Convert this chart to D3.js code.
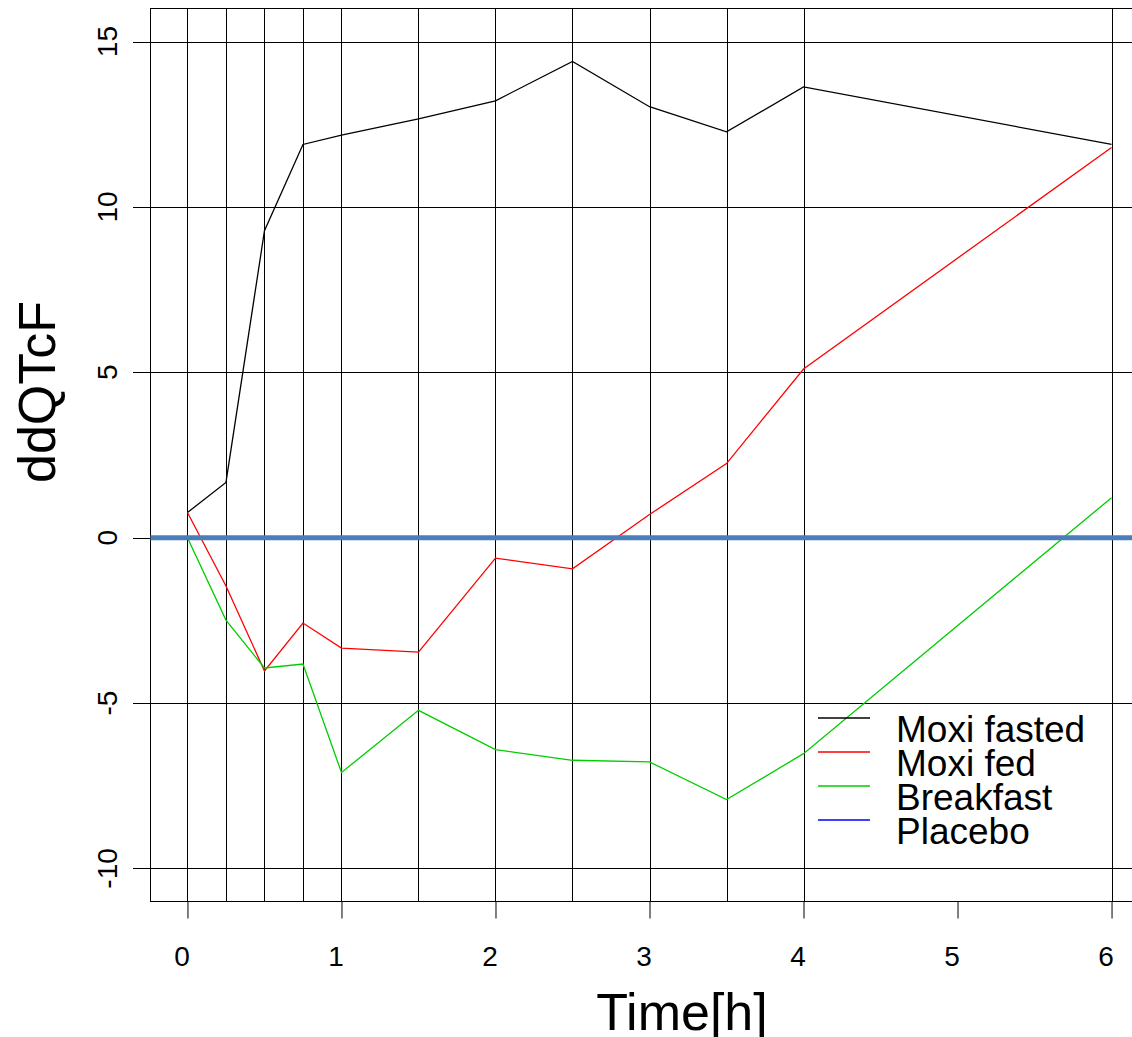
<!DOCTYPE html>
<html>
<head>
<meta charset="utf-8">
<script src="https://cdn.jsdelivr.net/npm/d3@7"></script>
<style>
  body { margin: 0; background: #fff; }
  text { font-family: "Liberation Sans", Arial, sans-serif; fill: #000; }
</style>
</head>
<body>
<div class="chart"></div>
<script>
var svgWidth = 1132;
var svgHeight = 1037;

// time points (h)
var times = [0, 0.25, 0.5, 0.75, 1, 1.5, 2, 2.5, 3, 3.5, 4, 6];

var moxiFasted = [0.76, 1.67, 9.28, 11.89, 12.17, 12.66, 13.21, 14.40, 13.03, 12.27, 13.63, 11.89];
var moxiFed    = [0.76, -1.46, -4.03, -2.58, -3.34, -3.46, -0.62, -0.94, 0.70, 2.24, 5.10, 11.80];
var breakfast  = [0.0, -2.49, -3.94, -3.82, -7.10, -5.22, -6.41, -6.73, -6.78, -7.92, -6.53, 1.21];
var placebo    = [0, 0, 0, 0, 0, 0, 0, 0, 0, 0, 0, 0];

var xTicks = [0, 1, 2, 3, 4, 5, 6];
var yTicks = [-10, -5, 0, 5, 10, 15];

var seriesNames = ["Moxi fasted", "Moxi fed", "Breakfast", "Placebo"];
var seriesColors = ["#000000", "#ff0000", "#00cd00", "#0000ff"];
var seriesValues = [moxiFasted, moxiFed, breakfast, placebo];

var svg = d3.select(".chart")
    .append("svg")
    .attr("width", svgWidth)
    .attr("height", svgHeight)
    .style("display", "block");

svg.append("rect")
    .attr("width", svgWidth)
    .attr("height", svgHeight)
    .attr("fill", "#fff");

var x = d3.scaleLinear().domain([-0.24, 6.24]).range([150.5, 1148.5]);
var y = d3.scaleLinear().domain([-11, 16]).range([901.5, 8.5]);

var plot = svg.append("g");

// vertical grid lines at each sampling time
plot.selectAll(".vgrid")
    .data(times)
    .enter().append("line")
    .attr("x1", function(d) { return Math.round(x(d)) + 0.5; })
    .attr("x2", function(d) { return Math.round(x(d)) + 0.5; })
    .attr("y1", y(16))
    .attr("y2", y(-11))
    .attr("stroke", "#000")
    .attr("stroke-width", 1);

// horizontal grid lines
plot.selectAll(".hgrid")
    .data(yTicks)
    .enter().append("line")
    .attr("x1", 133)
    .attr("x2", svgWidth)
    .attr("y1", function(d) { return Math.round(y(d)) + 0.5; })
    .attr("y2", function(d) { return Math.round(y(d)) + 0.5; })
    .attr("stroke", "#000")
    .attr("stroke-width", 1);

// box
plot.append("rect")
    .attr("x", 150.5)
    .attr("y", 8.5)
    .attr("width", 998)
    .attr("height", 893)
    .attr("fill", "none")
    .attr("stroke", "#000")
    .attr("stroke-width", 1);

// x axis
var xAxis = d3.axisBottom(x)
    .tickValues(xTicks)
    .tickSize(17)
    .tickPadding(28)
    .tickFormat(d3.format("d"));
var gx = svg.append("g")
    .attr("transform", "translate(0," + 901.5 + ")")
    .call(xAxis);
gx.select(".domain").remove();
gx.selectAll(".tick line").attr("stroke", "#000");
gx.selectAll(".tick text")
    .attr("font-size", 28)
    .attr("dx", -6)
    .style("font-family", "'Liberation Sans', Arial, sans-serif");

// y axis labels (rotated, R style)
svg.selectAll(".ylab")
    .data(yTicks)
    .enter().append("text")
    .attr("transform", function(d) { return "translate(117," + y(d) + ") rotate(-90)"; })
    .attr("text-anchor", "middle")
    .attr("font-size", 28)
    .text(function(d) { return d; });

// series
var line = d3.line()
    .x(function(d, i) { return x(times[i]); })
    .y(function(d) { return y(d); });

seriesValues.forEach(function(vals, k) {
    svg.append("path")
        .datum(vals)
        .attr("d", line)
        .attr("fill", "none")
        .attr("stroke", seriesColors[k])
        .attr("stroke-width", 1.3);
});

// reference line at 0
svg.append("line")
    .attr("x1", 150.5)
    .attr("x2", svgWidth)
    .attr("y1", y(0))
    .attr("y2", y(0))
    .attr("stroke", "#4a7ebb")
    .attr("stroke-width", 5);

// legend
var legend = svg.append("g");
seriesNames.forEach(function(name, i) {
    var ly = 718 + i * 34;
    legend.append("line")
        .attr("x1", 818)
        .attr("x2", 870)
        .attr("y1", ly)
        .attr("y2", ly)
        .attr("stroke", seriesColors[i])
        .attr("stroke-width", 1.3);
    legend.append("text")
        .attr("x", 896)
        .attr("y", ly + 24)
        .attr("font-size", 37)
        .text(name);
});

// axis titles
svg.append("text")
    .attr("x", 682)
    .attr("y", 1030)
    .attr("text-anchor", "middle")
    .attr("font-size", 52)
    .text("Time[h]");

svg.append("text")
    .attr("transform", "translate(55,392) rotate(-90)")
    .attr("text-anchor", "middle")
    .attr("font-size", 52)
    .text("ddQTcF");
</script>
</body>
</html>
